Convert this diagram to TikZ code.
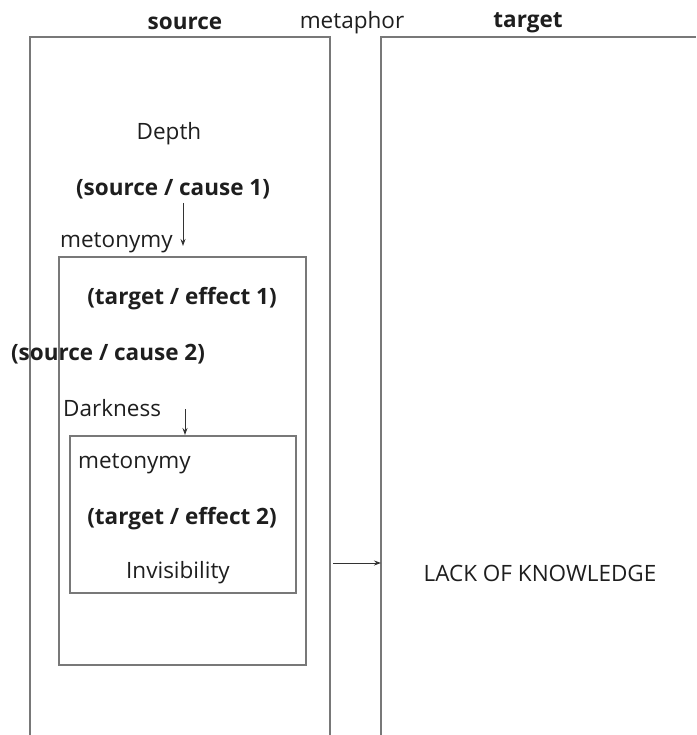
\documentclass[tikz,border=0pt]{standalone}
\usepackage{fontspec}
\setmainfont{Open Sans}
\usetikzlibrary{arrows.meta}
\definecolor{boxgray}{RGB}{120,120,120}
\definecolor{txt}{RGB}{30,30,30}
\begin{document}
\begin{tikzpicture}[x=1pt,y=-1pt,
  frame/.style={draw=boxgray,line width=1.6pt},
  lbl/.style={inner sep=0pt,text=txt,font=\fontsize{22.5}{25}\selectfont},
  blbl/.style={inner sep=0pt,text=txt,font=\fontsize{22.5}{25}\selectfont\bfseries},
  conn/.style={draw=black!80,line width=1pt,-{Stealth[length=7pt,width=5pt]}}]
\useasboundingbox (0,0) rectangle (696,735);
% outer frames (open at the bottom / right)
\draw[frame] (30,735) -- (30,37) -- (330,37) -- (330,735);
\draw[frame] (381,735) -- (381,37) -- (696,37);
\node[frame,rectangle,minimum width=247pt,minimum height=408pt,anchor=north west,inner sep=0pt] (mid) at (58,256) {};
\node[frame,rectangle,minimum width=226pt,minimum height=157pt,anchor=north west,inner sep=0pt] (inner) at (69,435) {};
% headers
\node[blbl] (src) at (185,23) {source};
\node[lbl] (met) at (352,23) {metaphor};
\node[blbl] (tgt) at (528,23) {target};
% texts
\node[lbl] (depth) at (169,134) {Depth};
\node[blbl] (sc1) at (173,189) {(source / cause 1)};
\node[lbl,anchor=west] (meto1) at (60,243) {metonymy};
\node[blbl] (te1) at (182,299) {(target / effect 1)};
\node[blbl] (sc2) at (108,354) {(source / cause 2)};
\node[lbl,anchor=west] (dark) at (63,408) {Darkness};
\node[lbl,anchor=west] (meto2) at (78,464) {metonymy};
\node[blbl] (te2) at (182,519) {(target / effect 2)};
\node[lbl] (inv) at (178,573) {Invisibility};
\node[lbl] (lack) at (540,573) {LACK OF KNOWLEDGE};
% connectors
\coordinate (a1s) at (183,203);
\coordinate (a1e) at (183,246);
\draw[conn] (a1s) -- (a1e);
\coordinate (a2s) at (185,409);
\draw[conn] (a2s) -- (inner.north -| a2s);
\coordinate (a3s) at (333,563);
\coordinate (a3e) at (381,563);
\draw[conn] (a3s) -- (a3e);
\end{tikzpicture}
\end{document}
